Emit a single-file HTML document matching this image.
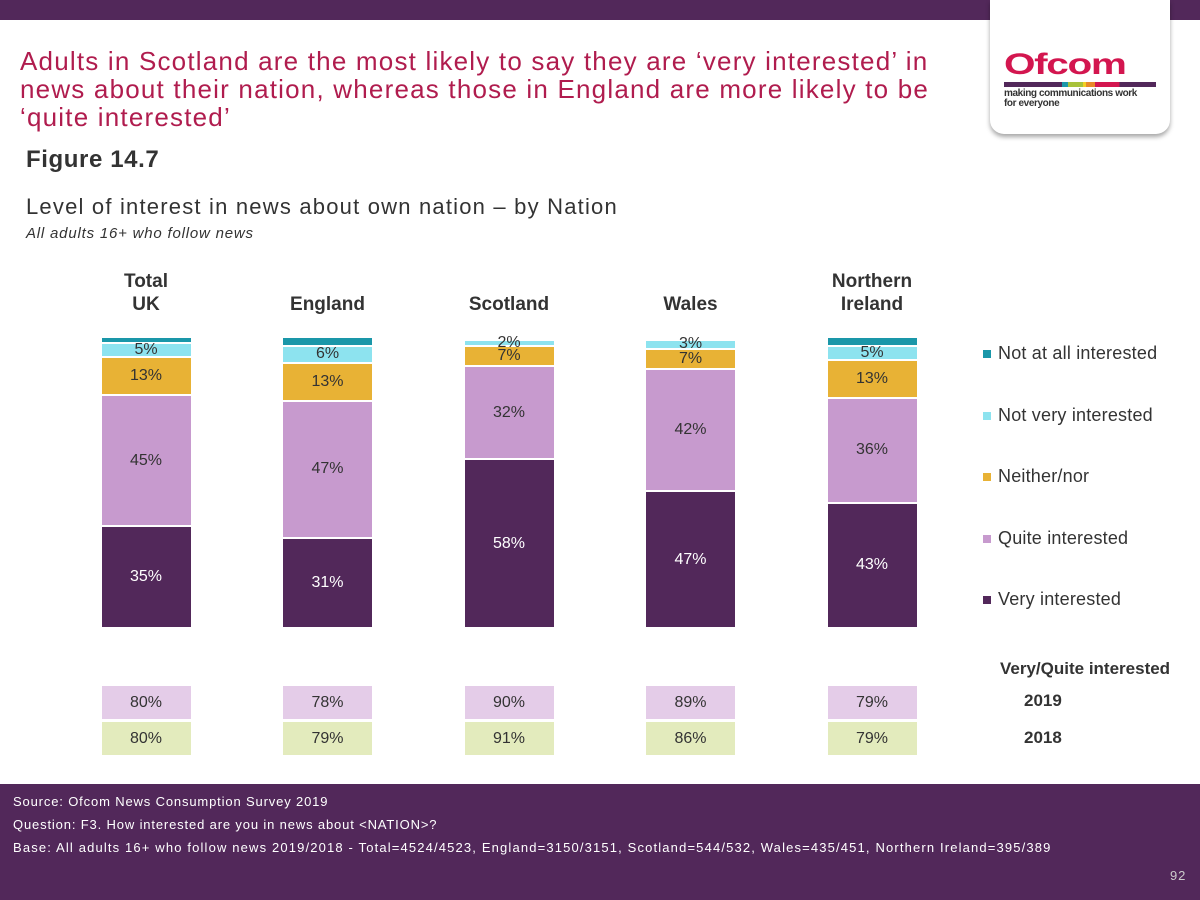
<!DOCTYPE html>
<html><head><meta charset="utf-8"><style>
body{margin:0;width:1200px;height:900px;position:relative;overflow:hidden;background:#fff;font-family:"Liberation Sans",sans-serif}
.abs{position:absolute}
</style></head><body>
<div class="abs" style="left:0;top:0;width:1200px;height:20px;background:#52285a"></div>
<div class="abs" style="left:990px;top:0;width:180px;height:134px;background:#fff;border-radius:0 0 14px 14px;box-shadow:0 3px 5px rgba(0,0,0,0.35)">
  <div class="abs" style="left:14px;top:50px;font-size:30px;font-weight:bold;color:#d3164f;letter-spacing:-1px;line-height:30px;transform:scaleX(1.35);transform-origin:left">Ofcom</div>
  <div class="abs" style="left:14px;top:82px;width:152px;height:5px;background:linear-gradient(90deg,#52285a 0 38%,#1a97a9 38% 42%,#a8c23b 42% 52%,#f2d024 52% 54%,#e8892a 54% 60%,#d3164f 60% 76%,#52285a 76%)"></div>
  <div class="abs" style="left:14px;top:89px;font-size:10px;line-height:10px;font-weight:bold;color:#333;letter-spacing:-0.4px">making communications work<br>for everyone</div>
</div>
<div class="abs" style="left:20px;top:47px;white-space:nowrap;font-size:26px;line-height:28px;color:#b01c4e;letter-spacing:1.2px">Adults in Scotland are the most likely to say they are ‘very interested’ in<br>news about their nation, whereas those in England are more likely to be<br>‘quite interested’</div>
<div class="abs" style="left:26px;top:146px;font-size:24px;font-weight:bold;color:#333;letter-spacing:0.6px">Figure 14.7</div>
<div class="abs" style="left:26px;top:194px;font-size:22px;color:#333;letter-spacing:1.2px">Level of interest in news about own nation – by Nation</div>
<div class="abs" style="left:26px;top:225px;font-size:15px;font-style:italic;color:#333;letter-spacing:0.8px">All adults 16+ who follow news</div>
<div id="chart"></div>
<div class="abs" style="left:0;top:784px;width:1200px;height:116px;background:#52285a;color:#fff;font-size:13px;letter-spacing:0.85px">
  <div class="abs" style="left:13px;top:10px">Source: Ofcom News Consumption Survey 2019</div>
  <div class="abs" style="left:13px;top:33px">Question: F3. How interested are you in news about &lt;NATION&gt;?</div>
  <div class="abs" style="left:13px;top:56px;letter-spacing:1.15px">Base: All adults 16+ who follow news 2019/2018 - Total=4524/4523, England=3150/3151, Scotland=544/532, Wales=435/451, Northern Ireland=395/389</div>
  <div class="abs" style="left:1170px;top:84px;color:#ccc">92</div>
</div>
<script>
const categories=["Total<br>UK","England","Scotland","Wales","Northern<br>Ireland"];
const veryInterested=[35,31,58,47,43];
const quiteInterested=[45,47,32,42,36];
const neitherNor=[13,13,7,7,13];
const notVery=[5,6,2,3,5];
const notAtAll=[2,3,0,0,3];
const combined2019=[80,78,90,89,79];
const combined2018=[80,79,91,86,79];
const seriesNames=["Very interested","Quite interested","Neither/nor","Not very interested","Not at all interested"];
const colors=["#52285a","#c79ace","#e8b235","#8de3ef","#1a97a9"];
const series=[veryInterested,quiteInterested,neitherNor,notVery,notAtAll];
const chart=document.getElementById('chart');
const base=629, pxPer=2.91, barW=89;
function xCenter(i){return 146+i*181.5;}
function yScale(v){return v*pxPer;}
function mk(tag,style,html){const e=document.createElement(tag);e.className='abs';e.style.cssText=style;if(html!==undefined)e.innerHTML=html;chart.appendChild(e);return e;}
categories.forEach((c,i)=>{
  const cx=xCenter(i);
  const lab=mk('div',`left:${cx-70}px;top:${i==0||i==4?270:293}px;width:140px;text-align:center;font-size:19px;font-weight:bold;color:#333;line-height:23px`,c);
  
  
  let cum=0;
  series.forEach((s,k)=>{
    const v=s[i]; if(!v) return;
    const top=base-yScale(cum+v), h=yScale(v);
    const seg=mk('div',`left:${cx-barW/2}px;top:${top}px;width:${barW}px;height:${Math.max(h-2,1)}px;background:${colors[k]};display:flex;align-items:center;justify-content:center;font-size:16px;color:${k==0?'#fff':'#333'};line-height:14px`,k<4?v+'%':'');
    
    
    cum+=v;
  });
  const b1=mk('div',`left:${cx-barW/2}px;top:686px;width:${barW}px;height:33px;background:#e4cce8;display:flex;align-items:center;justify-content:center;font-size:16px;color:#333`,combined2019[i]+'%');
  
  
  const b2=mk('div',`left:${cx-barW/2}px;top:722px;width:${barW}px;height:33px;background:#e3ebbd;display:flex;align-items:center;justify-content:center;font-size:16px;color:#333`,combined2018[i]+'%');
  
  
});
for(let k=4;k>=0;k--){
  const y=354+(4-k)*61.5;
  const sw=mk('div',`left:983px;top:${y-4}px;width:8px;height:8px;background:${colors[k]}`);
  
  
  const t=mk('div',`left:998px;top:${y-11}px;font-size:18px;color:#333;letter-spacing:0.2px`,seriesNames[k]);
  
  
}
const h=mk('div','left:1000px;top:659px;font-size:17px;font-weight:bold;color:#333','Very/Quite interested');


const y1=mk('div','left:1024px;top:691px;font-size:17px;font-weight:bold;color:#333','2019');


const y2=mk('div','left:1024px;top:728px;font-size:17px;font-weight:bold;color:#333','2018');


</script>
</body></html>
